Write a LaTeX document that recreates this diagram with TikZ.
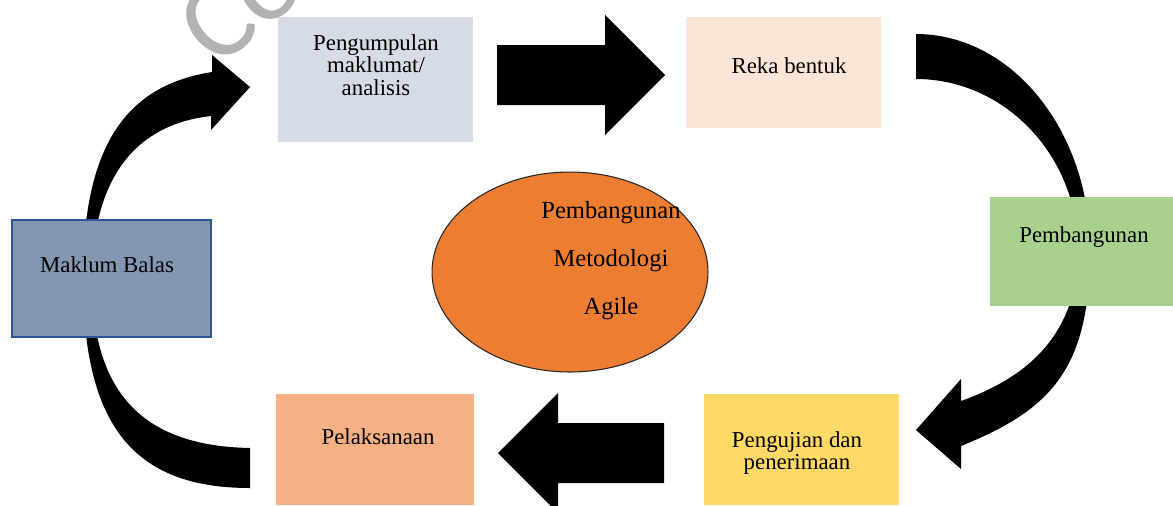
\documentclass[tikz,border=0pt]{standalone}
\usepackage{fontspec}
\setmainfont{Liberation Serif}
\newfontfamily\wmfont{Carlito}
\usetikzlibrary{shapes.geometric}
\definecolor{cGather}{HTML}{D6DCE5}
\definecolor{cDesign}{HTML}{FBE5D6}
\definecolor{cBuild}{HTML}{A9D18E}
\definecolor{cTest}{HTML}{FFD966}
\definecolor{cDeploy}{HTML}{F4B183}
\definecolor{cFeed}{HTML}{8497B0}
\definecolor{cFeedLine}{HTML}{2F5597}
\definecolor{cCore}{HTML}{ED7D31}
\begin{document}
\begin{tikzpicture}[x=0.02cm,y=-0.02cm,
  box/.style={rectangle, draw=none, inner sep=0pt},
  lbl/.style={font=\fontsize{13}{12.8}\selectfont, align=center, inner sep=0pt},
  blk/.style={fill=black}]
\useasboundingbox (0,0) rectangle (1173,505);
\clip (0,0) rectangle (1173,505);

% straight block arrows
\fill[blk] (497,45) -- (605,45) -- (605,15) -- (665,75) -- (605,135) -- (605,105) -- (497,105) -- cycle;
\fill[blk] (664,423) -- (558,423) -- (558,393) -- (498,453) -- (558,513) -- (558,483) -- (664,483) -- cycle;

% left curved arrow (Maklum Balas -> Pengumpulan)
\fill[blk] (250,488) .. controls (133,488) and (83,425) .. (83,278)
  .. controls (83,140) and (130,85) .. (212,72)
  -- (212,55) -- (250,87) -- (211,130) -- (211,116)
  .. controls (130,125) and (92,185) .. (92,280)
  .. controls (92,390) and (140,446) .. (250,448) -- cycle;

% right curved arrow (Reka bentuk -> Pengujian)
\fill[blk] (916,34) .. controls (1012,34) and (1090,131) .. (1090,250)
  .. controls (1090,370) and (1050,410) .. (961,446)
  -- (961,469) -- (916,430) -- (961,379) -- (961,401)
  .. controls (1020,380) and (1078,340) .. (1078,250)
  .. controls (1078,156) and (1005,79) .. (916,79) -- cycle;

% boxes
\node[box, fill=cGather, minimum width=3.9cm, minimum height=2.5cm] (gather) at (375.5,79.5) {};
\node[box, fill=cDesign, minimum width=3.9cm, minimum height=2.22cm] (design) at (783.5,72.5) {};
\node[box, fill=cBuild, minimum width=3.66cm, minimum height=2.18cm] (build) at (1081.5,251.5) {};
\node[box, fill=cTest, minimum width=3.9cm, minimum height=2.22cm] (test) at (801.5,449.5) {};
\node[box, fill=cDeploy, minimum width=3.96cm, minimum height=2.22cm] (deploy) at (375,449.5) {};
\node[box, fill=cFeed, draw=cFeedLine, line width=0.7pt, minimum width=3.98cm, minimum height=2.34cm] (feed) at (111.5,278.5) {};
\node[ellipse, fill=cCore, draw=black!85, line width=0.6pt, minimum width=5.52cm, minimum height=4cm, inner sep=0pt] (core) at (570,272) {};

% labels
\node[lbl] (tgather) at (376,65) {Pengumpulan\\maklumat/\\analisis};
\node[lbl] (tdesign) at (789,66) {Reka bentuk};
\node[lbl] (tbuild) at (1084,237) {Pembangunan};
\node[lbl] (ttest) at (797,453) {Pengujian dan\\penerimaan};
\node[lbl] (tdeploy) at (378,437) {Pelaksanaan};
\node[lbl] (tfeed) at (107,265) {Maklum Balas};
\node[lbl, font=\fontsize{14}{27.3}\selectfont] (tcore) at (611,261) {Pembangunan\\Metodologi\\Agile};

% watermark
\node[font=\wmfont\fontsize{64}{64}\selectfont, text=black!30, rotate=40, inner sep=0pt] (wm) at (240,4) {Co};
\end{tikzpicture}
\end{document}
